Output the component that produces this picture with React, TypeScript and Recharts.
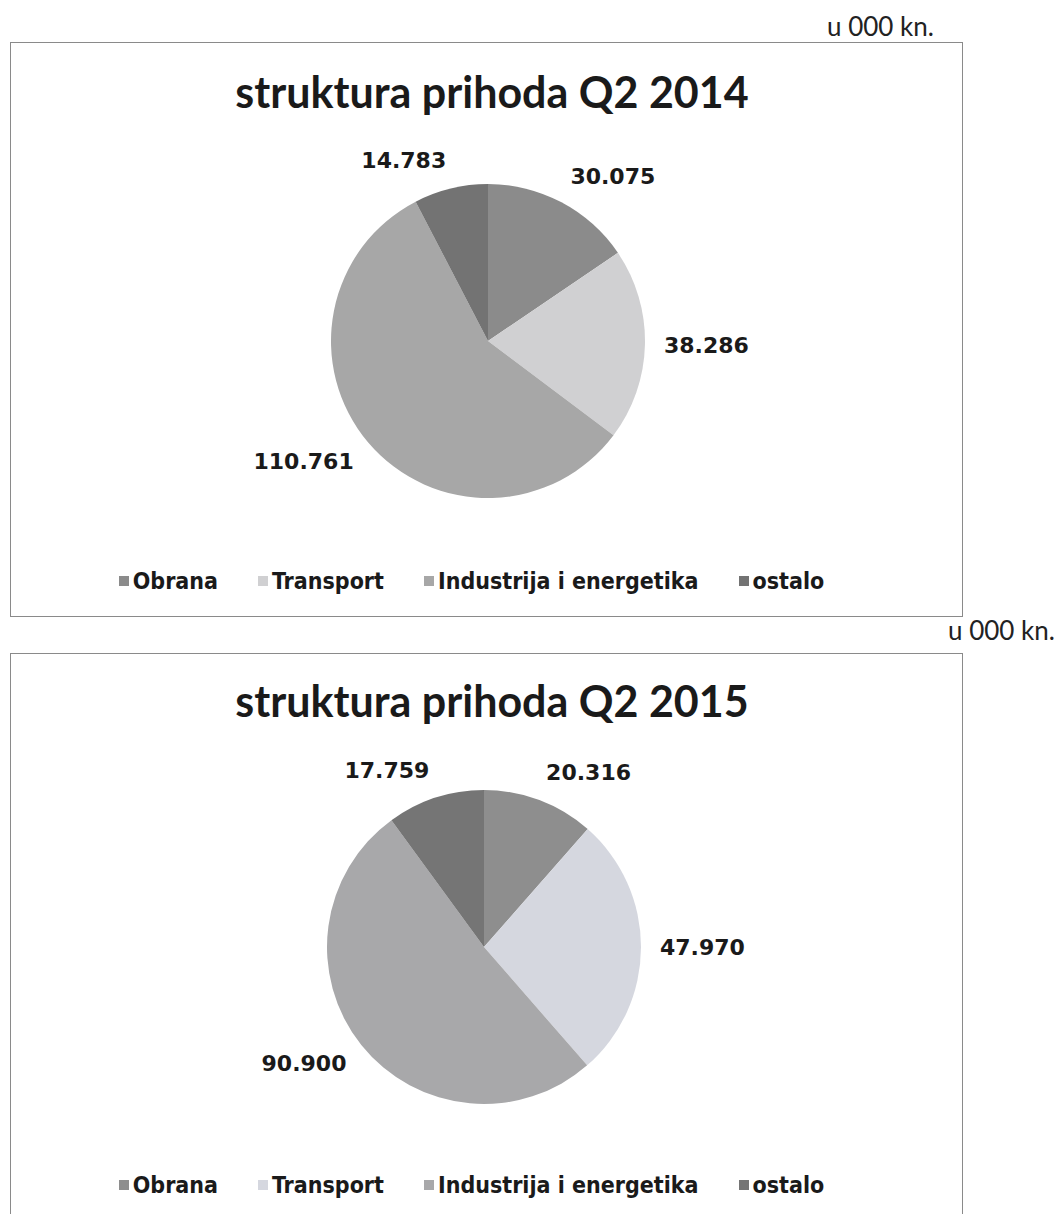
import React from 'react';
import { PieChart, Pie, Cell, Legend } from 'recharts';

const categories = ['Obrana', 'Transport', 'Industrija i energetika', 'ostalo'];
const values2014 = [30075, 38286, 110761, 14783];
const values2015 = [20316, 47970, 90900, 17759];
const colors2014 = ['#8b8b8b', '#d0d0d2', '#a7a7a7', '#737373'];
const colors2015 = ['#8e8e8e', '#d5d7df', '#a8a8aa', '#757575'];

const RADIAN = Math.PI / 180;

// hr format: 30075 -> 30.075
const fmt = (v: number) => String(v).replace(/\B(?=(\d{3})+(?!\d))/g, '.');

const renderLabel = (props: any) => {
  const { cx, cy, midAngle, outerRadius, value } = props;
  const cos = Math.cos(-midAngle * RADIAN);
  const sin = Math.sin(-midAngle * RADIAN);
  const r = outerRadius + 19;
  const x = cx + r * cos;
  const y = cy + r * sin + sin * 10;
  return (
    <text
      x={x}
      y={y}
      textAnchor={cos >= 0 ? 'start' : 'end'}
      dominantBaseline="central"
      fill="#1a1a1a"
      style={{ fontFamily: 'DejaVu Sans', fontWeight: 'bold', fontSize: 22 }}
    >
      {fmt(value)}
    </text>
  );
};

const renderLegend = (props: any) => {
  // keep the original category order (recharts sorts by name)
  const payload = [...props.payload].sort(
    (a: any, b: any) => categories.indexOf(a.value) - categories.indexOf(b.value)
  );
  return (
    <div style={{ display: 'flex', justifyContent: 'center', gap: 40, paddingRight: 30 }}>
      {payload.map((entry: any) => (
        <div key={entry.value} style={{ display: 'flex', alignItems: 'center' }}>
          <span style={{ width: 10, height: 10, background: entry.color, marginRight: 4, display: 'inline-block' }} />
          <span style={{ fontFamily: 'DejaVu Sans Condensed', fontWeight: 'bold', fontSize: 23, color: '#1a1a1a' }}>
            {entry.value}
          </span>
        </div>
      ))}
    </div>
  );
};

interface ChartBoxProps {
  title: string;
  values: number[];
  colors: string[];
  top: number;
  titleTop: number;
  pieCx: number;
  pieCy: number;
  legendTop: number;
  unitLeft: number;
  unitTop: number;
}

const ChartBox: React.FC<ChartBoxProps> = ({
  title, values, colors, top, titleTop, pieCx, pieCy, legendTop, unitLeft, unitTop,
}) => {
  const data = categories.map((name, i) => ({ name, value: values[i] }));
  return (
    <>
      <div
        style={{
          position: 'absolute',
          left: unitLeft,
          top: unitTop,
          fontFamily: 'Lato',
          fontSize: 26,
          color: '#222',
          whiteSpace: 'nowrap',
        }}
      >
        u 000 kn.
      </div>
      <div
        style={{
          position: 'absolute',
          left: 10,
          top,
          width: 953,
          height: 575,
          border: '1px solid #8a8a8a',
          boxSizing: 'border-box',
          background: '#fff',
        }}
      >
        <div
          style={{
            position: 'absolute',
            left: 0,
            width: 962,
            top: titleTop,
            textAlign: 'center',
            fontFamily: 'Lato',
            fontWeight: 'bold',
            fontSize: 43,
            color: '#1a1a1a',
            whiteSpace: 'nowrap',
          }}
        >
          {title}
        </div>
        <PieChart width={951} height={573} margin={{ top: 0, right: 0, bottom: 0, left: 0 }}>
          <Pie
            data={data}
            dataKey="value"
            nameKey="name"
            cx={pieCx}
            cy={pieCy}
            outerRadius={157}
            startAngle={90}
            endAngle={-270}
            stroke="none"
            label={renderLabel}
            labelLine={false}
            isAnimationActive={false}
          >
            {data.map((d, i) => (
              <Cell key={d.name} fill={colors[i]} />
            ))}
          </Pie>
          <Legend
            content={renderLegend}
            wrapperStyle={{ position: 'absolute', top: legendTop, left: 0, width: '100%' }}
          />
        </PieChart>
      </div>
    </>
  );
};

export default function App() {
  return (
    <div style={{ position: 'fixed', left: 0, top: 0, width: 1054, height: 1214, overflow: 'hidden', background: '#fff' }}>
      <ChartBox
        title="struktura prihoda Q2 2014"
        values={values2014}
        colors={colors2014}
        top={42}
        titleTop={23}
        pieCx={477}
        pieCy={298}
        legendTop={525}
        unitLeft={827}
        unitTop={10}
      />
      <ChartBox
        title="struktura prihoda Q2 2015"
        values={values2015}
        colors={colors2015}
        top={653}
        titleTop={21}
        pieCx={473}
        pieCy={293}
        legendTop={518}
        unitLeft={948}
        unitTop={614}
      />
    </div>
  );
}
